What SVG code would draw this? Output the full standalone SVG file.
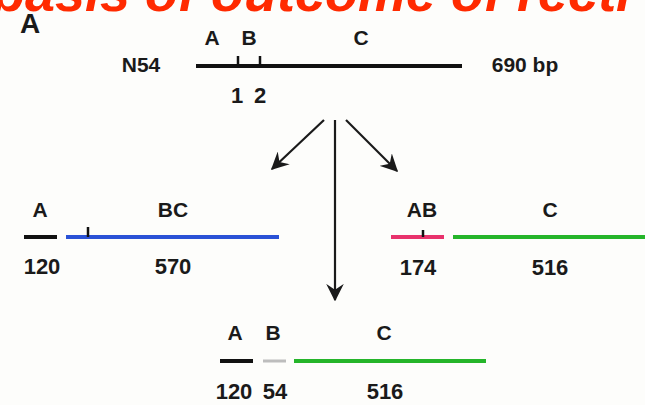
<svg xmlns="http://www.w3.org/2000/svg" width="645" height="405" viewBox="0 0 645 405">
<style>
.t{font-family:"Liberation Sans",Arial,sans-serif;font-weight:bold;fill:#1a1a1a;font-size:21px;text-anchor:middle}
.n{font-size:22px}
.seg{stroke-width:4;fill:none;stroke-linecap:butt}
.con{stroke:#1a1a1a;stroke-width:2.2;fill:none}
</style>
<defs>
<marker id="ah" viewBox="0 0 12 12" refX="11" refY="6" markerWidth="8" markerHeight="8" orient="auto" markerUnits="strokeWidth">
<path d="M0,0 L12,6 L0,12 L4,6 z" fill="#1a1a1a"/>
</marker>
</defs>
<rect width="645" height="405" fill="#fdfdfb"/>
<text x="-8" y="11" font-family="'Liberation Sans',Arial,sans-serif" font-weight="bold" font-style="italic" font-size="54" fill="#ff2a00">basis of outcome of recti</text>
<text x="30" y="33" class="t" style="font-size:28px">A</text>
<g id="n54">
<text x="141" y="72" class="t">N54</text>
<line x1="196" y1="66" x2="462" y2="66" class="seg" stroke="#111"/>
<line x1="238" y1="56" x2="238" y2="66" stroke="#111" stroke-width="2.5"/>
<line x1="260" y1="56" x2="260" y2="66" stroke="#111" stroke-width="2.5"/>
<text x="212" y="45" class="t">A</text>
<text x="249" y="45" class="t">B</text>
<text x="361" y="45" class="t">C</text>
<text x="525" y="72" class="t">690 bp</text>
<text x="237" y="103" class="t n">1</text>
<text x="260" y="103" class="t n">2</text>
</g>
<g id="left">
<line x1="24" y1="237" x2="57" y2="237" class="seg" stroke="#111"/>
<line x1="66" y1="237" x2="279" y2="237" class="seg" stroke="#2a52d6"/>
<line x1="88" y1="227" x2="88" y2="237" stroke="#111" stroke-width="2.5"/>
<text x="40" y="217" class="t">A</text>
<text x="173" y="217" class="t">BC</text>
<text x="42" y="274" class="t n">120</text>
<text x="173" y="274" class="t n">570</text>
</g>
<g id="right">
<line x1="391" y1="237" x2="444" y2="237" class="seg" stroke="#e8326c"/>
<line x1="423" y1="230" x2="423" y2="237" stroke="#111" stroke-width="2.5"/>
<line x1="453" y1="237" x2="645" y2="237" class="seg" stroke="#25b52a"/>
<text x="422" y="217" class="t">AB</text>
<text x="550" y="217" class="t">C</text>
<text x="418" y="275" class="t n">174</text>
<text x="550" y="275" class="t n">516</text>
</g>
<g id="bottom">
<line x1="220" y1="361" x2="253" y2="361" class="seg" stroke="#111"/>
<line x1="263" y1="361" x2="286" y2="361" stroke="#bdbdbd" stroke-width="3"/>
<line x1="294" y1="361" x2="486" y2="361" class="seg" stroke="#25b52a"/>
<text x="235" y="340" class="t">A</text>
<text x="273" y="340" class="t">B</text>
<text x="384" y="340" class="t">C</text>
<text x="234" y="399" class="t n">120</text>
<text x="275" y="399" class="t n">54</text>
<text x="385" y="399" class="t n">516</text>
</g>
<g id="connectors">
<line x1="324" y1="120" x2="272" y2="169" class="con" marker-end="url(#ah)"/>
<line x1="335" y1="120" x2="335" y2="300" class="con" marker-end="url(#ah)"/>
<line x1="346" y1="120" x2="397" y2="171" class="con" marker-end="url(#ah)"/>
</g>
</svg>
